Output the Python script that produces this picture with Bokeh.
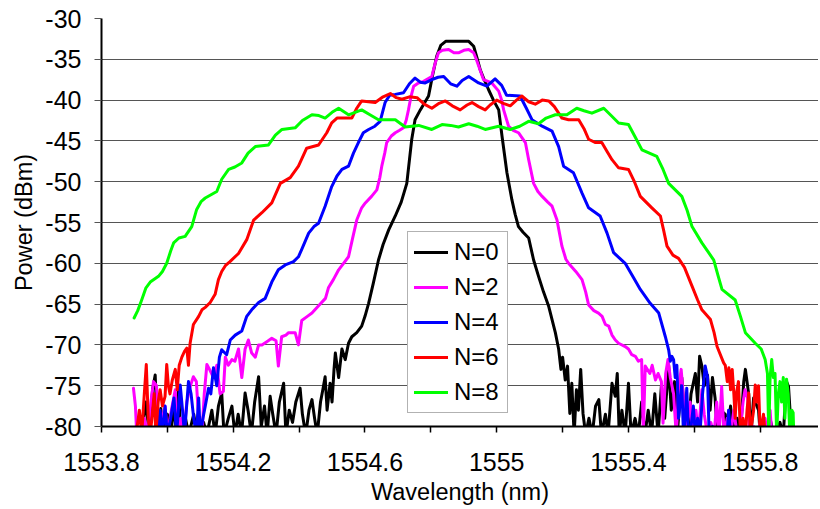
from bokeh.plotting import figure
from bokeh.models import FixedTicker, Range1d
from bokeh.embed import file_html
from bokeh.resources import INLINE

# ---------------- data ----------------
X_TICKS = [1553.8, 1554.2, 1554.6, 1555.0, 1555.4, 1555.8]
X_TICK_LABELS = ["1553.8", "1554.2", "1554.6", "1555", "1555.4", "1555.8"]
X_MINOR = [1554.0, 1554.4, 1554.8, 1555.2, 1555.6]
Y_TICKS = [-80, -75, -70, -65, -60, -55, -50, -45, -40, -35, -30]
Y_TICK_LABELS = ["-80", "-75", "-70", "-65", "-60", "-55", "-50", "-45", "-40", "-35", "-30"]

SERIES_NAMES = ["N=0", "N=2", "N=4", "N=6", "N=8"]
SERIES_COLORS = ["#000000", "#FF00FF", "#0000FF", "#FF0000", "#00FF00"]

N0 = [
    (1553.921, -81), (1553.935, -77), (1553.945, -81), (1553.955, -75.5), (1553.963, -73.7), (1553.97, -81),
    (1553.98, -77.8), (1553.99, -81), (1554.00, -78.5), (1554.01, -81), (1554.02, -77.5), (1554.028, -81),
    (1554.034, -75.3), (1554.04, -81), (1554.055, -79), (1554.065, -81), (1554.08, -78.5), (1554.09, -81),
    (1554.11, -79.5), (1554.12, -81), (1554.135, -78), (1554.145, -81), (1554.155, -77.5), (1554.165, -75.9),
    (1554.172, -81), (1554.185, -79), (1554.196, -77.5), (1554.205, -81), (1554.215, -78.5), (1554.225, -81),
    (1554.236, -75.9), (1554.245, -78), (1554.255, -81), (1554.265, -77), (1554.277, -73.9), (1554.285, -80),
    (1554.295, -77.5), (1554.303, -81), (1554.312, -76.3), (1554.32, -78.5), (1554.33, -81), (1554.34, -77),
    (1554.353, -74.7), (1554.36, -81), (1554.37, -78), (1554.38, -79.5), (1554.39, -77), (1554.403, -75.3),
    (1554.41, -78.5), (1554.42, -81), (1554.43, -78), (1554.439, -76.7), (1554.447, -79), (1554.455, -81),
    (1554.465, -77), (1554.472, -75.5), (1554.479, -73.9), (1554.485, -78), (1554.494, -74.7), (1554.50, -77),
    (1554.506, -73), (1554.510, -71), (1554.52, -74), (1554.53, -70.5), (1554.54, -71.8), (1554.55, -69.8),
    (1554.56, -69.0), (1554.575, -68.5), (1554.59, -67.7), (1554.60, -66.5), (1554.611, -64.9), (1554.625, -62.5),
    (1554.641, -59.6), (1554.655, -57.7), (1554.672, -55.9), (1554.692, -54.2), (1554.71, -52.5), (1554.727, -50.2),
    (1554.742, -44.8), (1554.752, -42.4), (1554.768, -41.2), (1554.793, -39.5), (1554.805, -37), (1554.818, -34.6),
    (1554.83, -33.3), (1554.845, -32.8), (1554.864, -32.8), (1554.89, -32.8), (1554.915, -32.8), (1554.93, -33.4),
    (1554.94, -34.8), (1554.95, -36.3), (1554.962, -37.5), (1554.975, -38.7), (1554.99, -40), (1555.006, -41.2),
    (1555.016, -44.4), (1555.031, -48.9), (1555.046, -52.2), (1555.056, -54), (1555.066, -55.5), (1555.08, -56.2),
    (1555.097, -56.9), (1555.112, -59.6), (1555.127, -61.6), (1555.142, -63.5), (1555.158, -65.3), (1555.178, -68.5),
    (1555.188, -70.5), (1555.195, -73), (1555.20, -71.5), (1555.208, -74.3), (1555.215, -72.6), (1555.222, -78.4),
    (1555.228, -74.7), (1555.235, -81), (1555.242, -75.5), (1555.248, -78), (1555.255, -73.0), (1555.262, -78.4),
    (1555.27, -81), (1555.28, -79), (1555.29, -81), (1555.30, -77.5), (1555.31, -76.7), (1555.318, -81),
    (1555.33, -78.5), (1555.338, -81), (1555.35, -74.7), (1555.36, -76.3), (1555.366, -73.5), (1555.372, -81),
    (1555.38, -78), (1555.39, -81), (1555.40, -74.7), (1555.408, -81), (1555.42, -79), (1555.43, -81),
    (1555.44, -77), (1555.45, -81), (1555.46, -78), (1555.47, -81), (1555.48, -76), (1555.49, -81),
    (1555.50, -75), (1555.51, -79), (1555.522, -72.5), (1555.53, -78), (1555.54, -74.5), (1555.55, -80),
    (1555.562, -74), (1555.57, -78.5), (1555.58, -81), (1555.59, -76), (1555.603, -73.5), (1555.61, -77),
    (1555.616, -71.4), (1555.623, -72.6), (1555.63, -75), (1555.64, -73.7), (1555.648, -78), (1555.655, -74),
    (1555.663, -76.5), (1555.67, -81), (1555.68, -78), (1555.694, -78.5), (1555.70, -81), (1555.71, -77.5),
    (1555.72, -81), (1555.73, -79), (1555.74, -81), (1555.75, -74.5), (1555.755, -73.0), (1555.765, -76),
    (1555.772, -81), (1555.78, -76.5), (1555.795, -78), (1555.80, -81), (1555.81, -79.5), (1555.82, -81),
    (1555.83, -79), (1555.84, -81), (1555.86, -79.5), (1555.87, -81), (1555.88, -74.5), (1555.886, -75.1),
    (1555.895, -81),
]

N2 = [
    (1553.897, -75.3), (1553.903, -77.5), (1553.907, -81), (1553.92, -81), (1553.93, -79), (1553.94, -81),
    (1553.95, -77), (1553.958, -74.5), (1553.967, -75), (1553.975, -81), (1553.985, -79), (1553.993, -77.5),
    (1554.00, -81), (1554.012, -78), (1554.024, -75.5), (1554.03, -81), (1554.04, -79), (1554.05, -81),
    (1554.059, -77), (1554.07, -75), (1554.079, -73.9), (1554.088, -74.5), (1554.095, -79), (1554.105, -81),
    (1554.112, -76), (1554.12, -72.4), (1554.128, -73), (1554.14, -74), (1554.15, -72.5), (1554.16, -76),
    (1554.17, -75.7), (1554.176, -71.5), (1554.185, -72.5), (1554.196, -71.8), (1554.205, -72), (1554.216, -70.5),
    (1554.226, -74), (1554.236, -70.5), (1554.246, -69.4), (1554.256, -71), (1554.267, -71.5), (1554.277, -70),
    (1554.287, -70), (1554.302, -69.6), (1554.317, -69.2), (1554.33, -69.5), (1554.337, -72.6), (1554.347, -69),
    (1554.36, -68.8), (1554.368, -68.5), (1554.388, -68.5), (1554.398, -70), (1554.408, -67), (1554.425, -66.5),
    (1554.439, -66.1), (1554.464, -65), (1554.48, -64.3), (1554.489, -63), (1554.504, -62), (1554.52, -60.8),
    (1554.535, -60), (1554.55, -59.2), (1554.562, -57), (1554.575, -54.7), (1554.59, -53.2), (1554.601, -52.6),
    (1554.62, -51.8), (1554.636, -51.0), (1554.645, -49.5), (1554.651, -48.1), (1554.66, -46.5), (1554.666, -45.2),
    (1554.68, -44.4), (1554.692, -44.0), (1554.705, -43.7), (1554.717, -43.4), (1554.725, -42.5), (1554.732, -41.2),
    (1554.74, -39.5), (1554.748, -38.3), (1554.762, -37.9), (1554.778, -37.7), (1554.803, -37.1), (1554.813, -35.5),
    (1554.823, -34.2), (1554.835, -33.9), (1554.854, -33.8), (1554.87, -34.2), (1554.884, -34.2), (1554.9, -33.9),
    (1554.915, -33.8), (1554.93, -34.2), (1554.938, -35), (1554.945, -35.8), (1554.96, -37.5), (1554.985, -37.9),
    (1555.006, -38.9), (1555.015, -40), (1555.021, -41.2), (1555.036, -43.2), (1555.05, -43.7), (1555.066, -44.0),
    (1555.087, -45.2), (1555.097, -47.3), (1555.112, -50.2), (1555.125, -51.2), (1555.138, -51.8), (1555.155, -52.5),
    (1555.168, -53.0), (1555.183, -54.7), (1555.198, -57.9), (1555.21, -59.5), (1555.218, -60.0), (1555.24, -61),
    (1555.259, -62.0), (1555.27, -63.5), (1555.279, -65.1), (1555.295, -65.8), (1555.309, -66.1), (1555.32, -66.5),
    (1555.33, -67.5), (1555.34, -67.7), (1555.35, -68.8), (1555.36, -69.4), (1555.37, -69.8), (1555.39, -70.2),
    (1555.40, -70.5), (1555.41, -71.2), (1555.421, -71.4), (1555.43, -72), (1555.44, -71.8), (1555.445, -81),
    (1555.451, -72.6), (1555.465, -73.5), (1555.472, -72.5), (1555.482, -74.3), (1555.49, -73.5), (1555.50, -74.5),
    (1555.505, -79.6), (1555.513, -73.5), (1555.52, -71.8), (1555.527, -74), (1555.537, -76), (1555.545, -81),
    (1555.553, -75), (1555.56, -73), (1555.567, -76.5), (1555.575, -81), (1555.587, -77), (1555.595, -81),
    (1555.605, -78), (1555.612, -81), (1555.623, -75.5), (1555.63, -78.5), (1555.64, -81), (1555.65, -79.5),
    (1555.66, -81), (1555.668, -77), (1555.675, -81), (1555.683, -75.1), (1555.69, -81), (1555.70, -79),
    (1555.71, -81), (1555.72, -78), (1555.73, -81), (1555.74, -80), (1555.748, -77), (1555.754, -75.5),
    (1555.762, -76.5), (1555.768, -81), (1555.78, -80), (1555.79, -81), (1555.80, -79.5), (1555.815, -79),
    (1555.82, -81), (1555.83, -78), (1555.835, -81),
]

N4 = [
    (1553.97, -81), (1553.978, -78), (1553.985, -81), (1553.993, -77.5), (1554.00, -81), (1554.01, -79),
    (1554.02, -76.5), (1554.028, -81), (1554.039, -74.9), (1554.046, -78), (1554.052, -81), (1554.064, -74.5),
    (1554.072, -76), (1554.08, -79), (1554.088, -81), (1554.095, -76.5), (1554.10, -81), (1554.108, -79),
    (1554.115, -77.5), (1554.125, -75.3), (1554.132, -76), (1554.140, -72.8), (1554.150, -75), (1554.158, -71.5),
    (1554.165, -70.6), (1554.18, -71.2), (1554.191, -69.4), (1554.206, -68.8), (1554.226, -68.3), (1554.241, -66.5),
    (1554.256, -65.7), (1554.277, -64.8), (1554.297, -64.3), (1554.317, -62.3), (1554.337, -60.8), (1554.358, -60.2),
    (1554.383, -59.8), (1554.398, -59.2), (1554.408, -58.3), (1554.429, -56.3), (1554.445, -55.5), (1554.459, -55.1),
    (1554.479, -53.0), (1554.499, -50.6), (1554.515, -49.3), (1554.530, -48.5), (1554.550, -48.1), (1554.565, -46.5),
    (1554.580, -45.2), (1554.595, -44.0), (1554.611, -43.6), (1554.630, -43.2), (1554.646, -42.6), (1554.661, -40.3),
    (1554.675, -39.4), (1554.692, -39.3), (1554.717, -39.1), (1554.735, -38), (1554.752, -37.3), (1554.768, -37.8),
    (1554.783, -37.9), (1554.803, -37.5), (1554.822, -37.2), (1554.839, -37.1), (1554.86, -38), (1554.879, -38.3),
    (1554.895, -37.6), (1554.915, -37.1), (1554.93, -37.5), (1554.945, -37.9), (1554.97, -38.3), (1554.995, -37.4),
    (1555.015, -38.2), (1555.030, -39.4), (1555.071, -39.5), (1555.09, -41), (1555.107, -42.4), (1555.138, -43.2),
    (1555.168, -43.8), (1555.188, -45.7), (1555.203, -48.1), (1555.233, -48.9), (1555.259, -51.4), (1555.279, -53.2),
    (1555.314, -54.2), (1555.335, -56.3), (1555.355, -58.7), (1555.39, -60.0), (1555.416, -61.8), (1555.436, -63.2),
    (1555.466, -64.9), (1555.492, -66.1), (1555.512, -69.0), (1555.522, -70.6), (1555.527, -72), (1555.532, -71.4),
    (1555.537, -71.8), (1555.542, -74), (1555.547, -72.5), (1555.552, -79), (1555.557, -77), (1555.562, -75),
    (1555.567, -81), (1555.572, -79), (1555.577, -75.3), (1555.582, -81), (1555.59, -80), (1555.597, -77.5),
    (1555.603, -81), (1555.61, -79), (1555.617, -81), (1555.625, -76), (1555.633, -72.6), (1555.64, -73.9),
    (1555.645, -81), (1555.655, -80), (1555.66, -81), (1555.70, -81), (1555.704, -78), (1555.71, -81),
]

N6 = [
    (1553.905, -81), (1553.915, -78), (1553.922, -81), (1553.93, -76), (1553.936, -72.4), (1553.942, -79),
    (1553.948, -81), (1553.953, -79), (1553.96, -76), (1553.965, -81), (1553.972, -77), (1553.978, -75.5),
    (1553.985, -77.5), (1553.993, -76.3), (1553.998, -72.4), (1554.003, -75), (1554.008, -76), (1554.015, -74.3),
    (1554.024, -73), (1554.03, -75.5), (1554.036, -72.5), (1554.044, -71.5), (1554.052, -70.8), (1554.059, -70.4),
    (1554.064, -72.5), (1554.069, -69.8), (1554.079, -67.5), (1554.095, -66.5), (1554.105, -65.7), (1554.115, -65.4),
    (1554.13, -64.8), (1554.145, -63.8), (1554.155, -62), (1554.165, -61), (1554.176, -60.3), (1554.19, -59.8),
    (1554.216, -58.8), (1554.241, -57.1), (1554.262, -54.7), (1554.287, -53.8), (1554.317, -52.6), (1554.343, -50.2),
    (1554.373, -49.5), (1554.398, -48.1), (1554.423, -45.9), (1554.459, -45.5), (1554.484, -44.0), (1554.499, -42.8),
    (1554.515, -42.2), (1554.530, -42.2), (1554.560, -42.2), (1554.575, -41), (1554.590, -40.1), (1554.631, -40.3),
    (1554.655, -39.6), (1554.677, -39.2), (1554.695, -39.7), (1554.712, -39.9), (1554.735, -39.6), (1554.758, -39.7),
    (1554.78, -40.5), (1554.803, -41.0), (1554.825, -40.4), (1554.844, -40.1), (1554.865, -40.7), (1554.889, -41.2),
    (1554.91, -40.6), (1554.925, -40.3), (1554.945, -40.8), (1554.965, -41.2), (1554.98, -40.6), (1555.000, -40.0),
    (1555.02, -40.4), (1555.041, -40.7), (1555.06, -40.0), (1555.076, -39.5), (1555.097, -40.2), (1555.117, -40.5),
    (1555.138, -40.0), (1555.158, -40.1), (1555.175, -40.8), (1555.198, -42.2), (1555.218, -42.4), (1555.249, -42.4),
    (1555.265, -43.5), (1555.279, -44.8), (1555.300, -45.2), (1555.319, -45.2), (1555.335, -46.3), (1555.350, -47.3),
    (1555.370, -48.3), (1555.400, -48.5), (1555.418, -50), (1555.436, -51.8), (1555.471, -53.2), (1555.497, -54.2),
    (1555.507, -56), (1555.517, -57.9), (1555.535, -59.0), (1555.552, -59.4), (1555.57, -60.5), (1555.593, -62.8),
    (1555.61, -64.5), (1555.623, -65.7), (1555.649, -66.9), (1555.660, -68.5), (1555.669, -70.2), (1555.689, -72.2),
    (1555.694, -72.5), (1555.70, -74.5), (1555.705, -72.8), (1555.71, -75.5), (1555.715, -73), (1555.72, -76),
    (1555.724, -79), (1555.728, -75.9), (1555.734, -74.5), (1555.74, -81), (1555.748, -79), (1555.755, -81),
    (1555.76, -78), (1555.765, -75.9), (1555.77, -81), (1555.78, -78), (1555.785, -74.9), (1555.79, -77),
    (1555.795, -75), (1555.80, -81), (1555.81, -78.5), (1555.815, -81),
]

N8 = [
    (1553.899, -66.7), (1553.91, -65.8), (1553.922, -64.5), (1553.935, -63), (1553.948, -62.3), (1553.973, -61.6),
    (1553.985, -61), (1553.998, -60.0), (1554.010, -58.5), (1554.019, -57.5), (1554.035, -56.9), (1554.054, -56.7),
    (1554.074, -55.5), (1554.089, -53.4), (1554.103, -52.4), (1554.115, -52.0), (1554.150, -51.2), (1554.165, -49.7),
    (1554.186, -48.5), (1554.205, -48.2), (1554.226, -47.7), (1554.245, -46.5), (1554.267, -45.7), (1554.307, -45.5),
    (1554.328, -44.3), (1554.348, -43.6), (1554.388, -43.4), (1554.41, -42.5), (1554.439, -41.8), (1554.46, -41.9),
    (1554.479, -42.2), (1554.50, -41.5), (1554.52, -41.0), (1554.550, -41.8), (1554.57, -41.5), (1554.590, -41.2),
    (1554.615, -41.8), (1554.641, -42.4), (1554.692, -42.4), (1554.722, -43.3), (1554.763, -43.1), (1554.803, -43.6),
    (1554.834, -43.0), (1554.860, -43.1), (1554.884, -43.3), (1554.915, -42.9), (1554.94, -43.2), (1554.965, -43.6),
    (1555.006, -43.2), (1555.041, -43.6), (1555.07, -43.2), (1555.097, -42.6), (1555.127, -42.9), (1555.15, -42.2),
    (1555.178, -41.8), (1555.213, -41.8), (1555.243, -41.0), (1555.265, -41.3), (1555.289, -41.6), (1555.325, -41.0),
    (1555.345, -41.8), (1555.370, -42.8), (1555.400, -43.0), (1555.420, -44.5), (1555.441, -46.1), (1555.486, -46.9),
    (1555.505, -48.5), (1555.522, -50.2), (1555.562, -51.8), (1555.578, -53.5), (1555.593, -55.5), (1555.623, -57.5),
    (1555.659, -59.6), (1555.672, -61.5), (1555.684, -63.2), (1555.724, -64.5), (1555.74, -66.5), (1555.755, -68.5),
    (1555.785, -69.8), (1555.803, -70.5), (1555.815, -71.8), (1555.822, -73.5), (1555.826, -81), (1555.830, -74),
    (1555.835, -71.8), (1555.84, -74), (1555.845, -73.5), (1555.85, -81), (1555.855, -76), (1555.86, -74.5),
    (1555.865, -77), (1555.87, -74), (1555.875, -79), (1555.88, -74.2), (1555.885, -76), (1555.89, -81),
    (1555.896, -78), (1555.90, -78.3), (1555.902, -81),
]

SERIES_DATA = [N0, N2, N4, N6, N8]

FONT = "Liberation Sans"

# ---------------- figure ----------------
p = figure(
    frame_width=717, frame_height=408,
    x_range=Range1d(1553.8, 1555.977), y_range=Range1d(-80, -30),
    output_backend="svg", toolbar_location=None,
    min_border_left=101, min_border_right=0, min_border_top=18, min_border_bottom=82,
)
p.outline_line_color = None
p.background_fill_color = "white"
p.border_fill_color = "white"

for name, color, data in zip(SERIES_NAMES, SERIES_COLORS, SERIES_DATA):
    xs = [d[0] for d in data]
    ys = [d[1] for d in data]
    p.line(xs, ys, line_color=color, line_width=3, line_join="round", line_cap="round",
           legend_label=name)

# grid
p.xgrid.visible = False
p.ygrid.ticker = FixedTicker(ticks=Y_TICKS)
p.ygrid.grid_line_color = "#555555"
p.ygrid.grid_line_width = 1

# x axis
xa = p.xaxis[0]
xa.ticker = FixedTicker(ticks=X_TICKS, minor_ticks=X_MINOR)
xa.major_label_overrides = {t: l for t, l in zip(X_TICKS, X_TICK_LABELS)}
xa.axis_line_color = "black"
xa.axis_line_width = 2
xa.major_tick_in = 0
xa.major_tick_out = 6
xa.minor_tick_in = 0
xa.minor_tick_out = 6
xa.major_tick_line_width = 1.5
xa.minor_tick_line_width = 1.5
xa.major_tick_line_color = "black"
xa.minor_tick_line_color = "black"
xa.major_label_text_font = FONT
xa.major_label_text_font_size = "25px"
xa.major_label_text_color = "black"
xa.major_label_standoff = 20
xa.axis_label = "Wavelength (nm)"
xa.axis_label_text_font = FONT
xa.axis_label_text_font_size = "23.5px"
xa.axis_label_text_font_style = "normal"
xa.axis_label_text_color = "black"
xa.axis_label_standoff = 5

# y axis
ya = p.yaxis[0]
ya.ticker = FixedTicker(ticks=Y_TICKS)
ya.major_label_overrides = {t: l for t, l in zip(Y_TICKS, Y_TICK_LABELS)}
ya.axis_line_color = "black"
ya.axis_line_width = 2
ya.major_tick_in = 0
ya.major_tick_out = 7
ya.minor_tick_line_color = None
ya.major_tick_line_color = "#555555"
ya.major_tick_line_width = 1
ya.major_label_text_font = FONT
ya.major_label_text_font_size = "25px"
ya.major_label_text_color = "black"
ya.major_label_standoff = 13
ya.axis_label = "Power (dBm)"
ya.axis_label_text_font = FONT
ya.axis_label_text_font_size = "23.5px"
ya.axis_label_text_font_style = "normal"
ya.axis_label_text_color = "black"
ya.axis_label_standoff = 5

# legend
lg = p.legend[0]
lg.location = (306, 13)
lg.label_text_font = FONT
lg.label_text_font_size = "24px"
lg.label_text_color = "black"
lg.glyph_width = 34
lg.glyph_height = 28
lg.label_height = 28
lg.label_width = 47
lg.label_standoff = 6
lg.padding = 6
lg.spacing = 7
lg.margin = 0
lg.border_line_color = "#666666"
lg.border_line_width = 1
lg.background_fill_color = "white"
lg.background_fill_alpha = 1.0

open("out.html", "w").write(file_html(p, INLINE))
